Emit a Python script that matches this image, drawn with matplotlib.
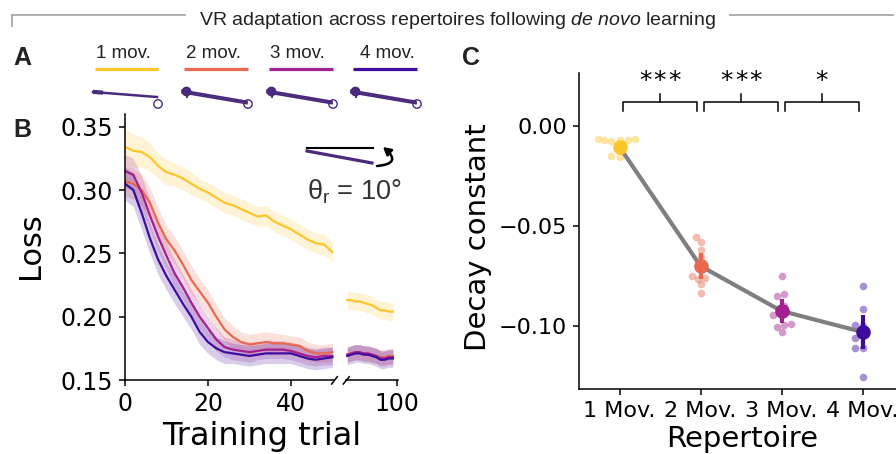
import numpy as np
import matplotlib
matplotlib.use("Agg")
import matplotlib.pyplot as plt
from matplotlib.patches import FancyArrowPatch, Circle

plt.rcParams["font.family"] = ["DejaVu Sans"]
plt.rcParams["mathtext.fontset"] = "custom"
plt.rcParams["mathtext.rm"] = "Liberation Sans"
plt.rcParams["mathtext.it"] = "Liberation Sans:italic"

# ---- panel B: loss during VR adaptation ----
trials_early = list(range(0, 51, 2))
trials_late = list(range(88, 100))

loss_1mov_early = [0.334, 0.331, 0.330, 0.326, 0.319, 0.314, 0.312, 0.309, 0.305, 0.301,
                   0.298, 0.294, 0.290, 0.288, 0.285, 0.282, 0.279, 0.280, 0.275, 0.272,
                   0.269, 0.265, 0.261, 0.258, 0.257, 0.251]
loss_2mov_early = [0.307, 0.305, 0.300, 0.290, 0.274, 0.261, 0.252, 0.241, 0.229, 0.220,
                   0.211, 0.200, 0.190, 0.184, 0.180, 0.178, 0.179, 0.180, 0.179, 0.179,
                   0.178, 0.177, 0.173, 0.171, 0.171, 0.172]
loss_3mov_early = [0.315, 0.312, 0.298, 0.280, 0.263, 0.248, 0.234, 0.223, 0.211, 0.200,
                   0.191, 0.182, 0.176, 0.174, 0.173, 0.172, 0.173, 0.174, 0.174, 0.174,
                   0.173, 0.171, 0.169, 0.168, 0.169, 0.169]
loss_4mov_early = [0.305, 0.300, 0.282, 0.262, 0.245, 0.232, 0.221, 0.210, 0.200, 0.188,
                   0.180, 0.175, 0.172, 0.171, 0.170, 0.169, 0.170, 0.171, 0.171, 0.171,
                   0.171, 0.169, 0.167, 0.166, 0.167, 0.168]

sem_1mov_early = [0.014, 0.013, 0.012, 0.011, 0.010, 0.010, 0.009, 0.009, 0.009, 0.008,
                  0.008, 0.008, 0.008, 0.008, 0.008, 0.008, 0.008, 0.008, 0.008, 0.008,
                  0.008, 0.008, 0.008, 0.008, 0.008, 0.008]
sem_2mov_early = [0.012, 0.012, 0.012, 0.012, 0.012, 0.011, 0.011, 0.011, 0.011, 0.010,
                  0.010, 0.010, 0.009, 0.009, 0.008, 0.008, 0.008, 0.008, 0.008, 0.007,
                  0.007, 0.007, 0.007, 0.007, 0.007, 0.007]
sem_3mov_early = [0.013, 0.013, 0.013, 0.012, 0.012, 0.011, 0.011, 0.010, 0.010, 0.010,
                  0.009, 0.009, 0.008, 0.008, 0.008, 0.008, 0.007, 0.007, 0.007, 0.007,
                  0.007, 0.007, 0.007, 0.007, 0.007, 0.007]
sem_4mov_early = [0.013, 0.013, 0.013, 0.012, 0.012, 0.011, 0.011, 0.010, 0.010, 0.010,
                  0.009, 0.009, 0.009, 0.008, 0.008, 0.008, 0.008, 0.008, 0.008, 0.008,
                  0.008, 0.008, 0.008, 0.008, 0.008, 0.008]

loss_1mov_late = [0.213, 0.213, 0.212, 0.212, 0.211, 0.210, 0.209, 0.207, 0.205, 0.205, 0.204, 0.204]
loss_2mov_late = [0.170, 0.171, 0.172, 0.171, 0.171, 0.170, 0.170, 0.169, 0.168, 0.168, 0.169, 0.169]
loss_3mov_late = [0.170, 0.171, 0.172, 0.172, 0.171, 0.171, 0.170, 0.169, 0.167, 0.167, 0.168, 0.168]
loss_4mov_late = [0.169, 0.170, 0.171, 0.171, 0.170, 0.170, 0.169, 0.168, 0.166, 0.166, 0.167, 0.167]
sem_1mov_late = [0.007] * 12
sem_2mov_late = [0.006] * 12
sem_3mov_late = [0.006] * 12
sem_4mov_late = [0.007] * 12

# ---- panel C: decay constant per repertoire ----
repertoires = ["1 Mov.", "2 Mov.", "3 Mov.", "4 Mov."]
decay_mean = [-0.0105, -0.070, -0.0925, -0.103]
decay_sem = [0.0015, 0.0065, 0.006, 0.0083]
decay_1mov = [-0.0065, -0.007, -0.0075, -0.007, -0.007, -0.0065, -0.015, -0.0155, -0.012]
decay_2mov = [-0.0555, -0.058, -0.062, -0.0655, -0.075, -0.0765, -0.076, -0.079, -0.0835]
decay_3mov = [-0.075, -0.085, -0.084, -0.0945, -0.1005, -0.0995, -0.099, -0.103, -0.090]
decay_4mov = [-0.080, -0.0915, -0.0995, -0.106, -0.111, -0.111, -0.1255, -0.100, -0.104]
n_stars = [3, 3, 1]

mov_labels = ["1 mov.", "2 mov.", "3 mov.", "4 mov."]

colors = ["#fcc62a", "#e8694f", "#a2208f", "#3e0b9f"]
traj_color = "#4a2a7a"

W, H = 896, 454
fig = plt.figure(figsize=(W / 100, H / 100), dpi=100)


def box(x0, y0, x1, y1):
    # pixel box -> figure fraction
    return [x0 / W, 1 - y1 / H, (x1 - x0) / W, (y1 - y0) / H]


ax_b = fig.add_axes(box(125, 114, 334, 380))
ax_b2 = fig.add_axes(box(346, 114, 398, 380))
ax_c = fig.add_axes(box(579, 73, 903, 389))

# ---------------- panel B ----------------
early = [loss_1mov_early, loss_2mov_early, loss_3mov_early, loss_4mov_early]
early_sem = [sem_1mov_early, sem_2mov_early, sem_3mov_early, sem_4mov_early]
late = [loss_1mov_late, loss_2mov_late, loss_3mov_late, loss_4mov_late]
late_sem = [sem_1mov_late, sem_2mov_late, sem_3mov_late, sem_4mov_late]

for c, y, s in zip(colors, early, early_sem):
    y, s = np.array(y), np.array(s)
    ax_b.fill_between(trials_early, y - s, y + s, color=c, alpha=0.2, lw=0)
    ax_b.plot(trials_early, y, color=c, lw=1.6)
for c, y, s in zip(colors, late, late_sem):
    y, s = np.array(y), np.array(s)
    ax_b2.fill_between(trials_late, y - s, y + s, color=c, alpha=0.2, lw=0)
    ax_b2.plot(trials_late, y, color=c, lw=1.6)

ax_b.set_xlim(0, 50.4)
ax_b.set_ylim(0.15, 0.36)
ax_b.set_xticks([0, 20, 40])
ax_b.set_yticks([0.15, 0.20, 0.25, 0.30, 0.35])
ax_b.set_yticklabels(["0.15", "0.20", "0.25", "0.30", "0.35"])
ax_b.spines[["top", "right"]].set_visible(False)

ax_b2.set_xlim(87.7, 100.24)
ax_b2.set_ylim(0.15, 0.36)
ax_b2.set_xticks([100])
ax_b2.set_yticks([])
ax_b2.spines[["top", "right", "left"]].set_visible(False)

for ax in (ax_b, ax_b2):
    ax.tick_params(labelsize=17, length=4.5, width=1.1, pad=4)
    for sp in ax.spines.values():
        sp.set_linewidth(1.1)

# ---------------- panel C ----------------
xs = np.arange(len(repertoires))
subjects = [decay_1mov, decay_2mov, decay_3mov, decay_4mov]
jitter = [[-0.27, -0.19, -0.10, 0.0, 0.10, 0.19, -0.10, 0.0, 0.0],
          [-0.05, 0.0, 0.0, 0.0, -0.11, -0.03, 0.06, 0.0, 0.0],
          [0.0, -0.06, 0.03, -0.10, -0.05, 0.03, 0.12, 0.0, 0.03],
          [0.0, 0.0, -0.09, -0.09, -0.09, 0.0, 0.0, 0.0, 0.0]]
for i in range(len(repertoires)):
    ax_c.scatter(xs[i] + np.array(jitter[i]), subjects[i], s=30, color=colors[i],
                 alpha=0.45, lw=0, zorder=1)
ax_c.plot(xs, decay_mean, color="#7f7f7f", lw=3, zorder=2)
for i in range(len(repertoires)):
    ax_c.errorbar(xs[i], decay_mean[i], yerr=decay_sem[i], fmt="o", color=colors[i],
                  ms=9.5, elinewidth=3, capsize=0, zorder=3)

for i, n in enumerate(n_stars):
    ax_c.plot([i + 0.04, i + 0.04, i + 0.96, i + 0.96], [0.0075, 0.012, 0.012, 0.0075],
              color="k", lw=1.1, clip_on=False)
    ax_c.plot([i + 0.5, i + 0.5], [0.012, 0.016], color="k", lw=1.1, clip_on=False)
    for k in range(n):
        ax_c.text(i + 0.5 + (k - (n - 1) / 2) * 0.18, 0.019, "*", fontsize=18,
                  ha="center", va="baseline")

ax_c.set_xlim(-0.5, 3.5)
ax_c.set_ylim(-0.1315, 0.0265)
ax_c.set_xticks(xs)
ax_c.set_xticklabels(repertoires)
ax_c.set_yticks([0.0, -0.05, -0.10])
ax_c.spines[["top", "right"]].set_visible(False)
ax_c.tick_params(labelsize=16, length=4.5, width=1.1, pad=4)
for sp in ax_c.spines.values():
    sp.set_linewidth(1.1)

# ---------------- overlay in pixel coordinates ----------------
ov = fig.add_axes([0, 0, 1, 1])
ov.set_xlim(0, W)
ov.set_ylim(H, 0)
ov.set_axis_off()

# title with grey rule
ov.text(457.5, 25, r"VR adaptation across repertoires following $\mathit{de\ novo}$ learning",
        fontsize=14, family="Liberation Sans", ha="center", va="baseline", color="#222222")
ov.plot([12, 185], [15, 15], color="#a8a8a8", lw=1.3)
ov.plot([12, 12], [15, 26], color="#a8a8a8", lw=1.3)
ov.plot([730, 893], [15, 15], color="#a8a8a8", lw=1.3)

# panel letters
for letter, x, y in [("A", 22, 65), ("B", 22, 137), ("C", 471, 65)]:
    ov.text(x, y, letter, fontsize=18, fontweight="bold", family="Liberation Sans",
            ha="center", va="baseline", color="#222222")

# panel A: repertoire labels + example reaches
label_x = [123.5, 214, 297, 387]
line_x = [(95, 158), (184, 248), (269, 333), (353, 417)]
for i, lab in enumerate(mov_labels):
    ov.text(label_x[i], 58, lab, fontsize=13.5, family="Liberation Sans",
            ha="center", va="baseline", color="#222222")
    ov.plot(line_x[i], [69, 69], color=colors[i], lw=2.3, solid_capstyle="butt")
    x0, x1 = line_x[i][0] - 2, line_x[i][1] - 1
    if i == 0:
        ov.plot([x0, x1], [92, 97], color=traj_color, lw=1.8)
        ov.plot([x0 + 2, x0 + 8], [92, 92.5], color=traj_color, lw=3)
    else:
        for dy in (-1.2, 0.0, 1.2):
            ov.plot([x0, x1], [91.5 + dy, 102.5 + dy], color=traj_color, lw=1.2)
        ov.plot([x0 + 4], [91], "o", color=traj_color, ms=6)
        ov.plot([x0 + 6, x0 + 5], [93, 97], color=traj_color, lw=1.4)
    ov.add_patch(Circle((x1 + 1, 104), 4.2, fill=False, ec=traj_color, lw=1.0))

# panel B: rotation inset
ov.plot([307, 373], [148, 148], color="k", lw=1.5)
ov.plot([307, 372], [151, 163], color=traj_color, lw=2.3)
ov.add_patch(FancyArrowPatch((377, 166), (383, 147), connectionstyle="arc3,rad=1.2",
                             arrowstyle="-|>,head_length=0.45,head_width=0.25",
                             mutation_scale=10, color="k", lw=1.8, shrinkA=0, shrinkB=0))
ov.text(307, 200, r"$\mathregular{θ_r}$ = 10°", fontsize=19.5, family="Liberation Sans",
        ha="left", va="baseline", color="#333333")

# broken axis marks
ov.plot([331.7, 337.3], [384, 376.7], color="k", lw=1.1)
ov.plot([343.3, 349.3], [384, 376.7], color="k", lw=1.1)

# axis labels
ov.text(262, 445, "Training trial", fontsize=23, ha="center", va="baseline")
ov.text(31, 246, "Loss", fontsize=22, rotation=90, ha="center", va="center")
ov.text(742, 447, "Repertoire", fontsize=21, ha="center", va="baseline")
ov.text(478, 237, "Decay constant", fontsize=21, rotation=90, ha="center", va="center")

fig.savefig("out.png", dpi=100)
